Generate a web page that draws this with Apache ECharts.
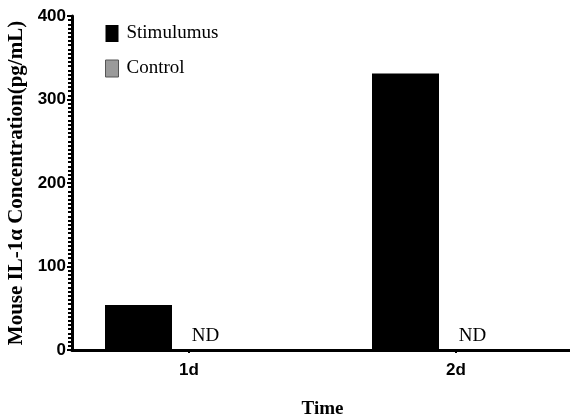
<!DOCTYPE html>
<html>
<head>
<meta charset="utf-8">
<script src="https://cdn.jsdelivr.net/npm/echarts@6/dist/echarts.min.js"></script>
<style>html,body{margin:0;padding:0;background:#fff}#c{width:570px;height:418px}</style>
</head>
<body>
<div id="c"></div>
<script>
const categories = ['1d', '2d'];
const stimulusValues = [54, 331];
const controlValues = [0, 0];
const controlLabels = ['ND', 'ND'];
const yTicks = [0, 100, 200, 300, 400];
const yAxisName = 'Mouse IL-1\u03b1 Concentration(pg/mL)';
const xAxisName = 'Time';
const seriesNames = ['Stimulumus', 'Control'];

const serif = 'Liberation Serif';
const sans = 'Liberation Sans';
const chart = echarts.init(document.getElementById('c'), null, {renderer: 'canvas'});
const gridTop = 16, gridBottom = 68;
chart.setOption({
  animation: false,
  backgroundColor: '#fff',
  legend: {
    data: [
      {name: seriesNames[0], itemStyle: {color: '#000', borderWidth: 0}},
      {name: seriesNames[1], itemStyle: {color: '#9a9a9a', borderColor: '#555', borderWidth: 1}}
    ],
    orient: 'vertical', icon: 'rect',
    left: 100, top: 19,
    itemWidth: 13, itemHeight: 17, itemGap: 16,
    textStyle: {fontFamily: serif, fontSize: 19, color: '#000', padding: [0, 0, 0, 3]}
  },
  grid: [
    {left: 55.5, width: 534, top: gridTop, bottom: gridBottom, outerBoundsMode: 'none', containLabel: false},
    {left: 72, right: 0, top: gridTop, bottom: gridBottom, outerBoundsMode: 'none', containLabel: false}
  ],
  xAxis: [
    {
      type: 'category', gridIndex: 0, data: categories,
      axisLine: {show: false},
      axisTick: {show: true, alignWithLabel: true, length: 3, lineStyle: {color: '#000', width: 2}},
      axisLabel: {fontFamily: sans, fontWeight: 'bold', fontSize: 17, color: '#000', margin: 12},
      name: xAxisName, nameLocation: 'middle', nameGap: 50,
      nameTextStyle: {fontFamily: serif, fontWeight: 'bold', fontSize: 19, color: '#000'}
    },
    {
      type: 'category', gridIndex: 1, data: categories,
      axisLine: {show: true, lineStyle: {color: '#000', width: 3}},
      axisTick: {show: false}, axisLabel: {show: false}
    }
  ],
  yAxis: [
    {type: 'value', gridIndex: 0, min: 0, max: 400, show: false},
    {
      type: 'value', gridIndex: 1, min: 0, max: 400, interval: 100,
      axisLine: {show: true, lineStyle: {color: '#000', width: 3}},
      axisTick: {show: true, length: 5, lineStyle: {color: '#000', width: 2}},
      minorTick: {show: true, splitNumber: 20, length: 4, lineStyle: {color: '#000', width: 2}},
      splitLine: {show: false},
      axisLabel: {fontFamily: sans, fontWeight: 'bold', fontSize: 17, color: '#000', margin: 6},
      name: yAxisName, nameLocation: 'middle', nameGap: 45,
      nameTextStyle: {fontFamily: serif, fontWeight: 'bold', fontSize: 21, color: '#000'}
    }
  ],
  series: [
    {
      name: seriesNames[0], type: 'bar', xAxisIndex: 0, yAxisIndex: 0,
      data: stimulusValues, barWidth: 67, barGap: '0%',
      itemStyle: {color: '#000'}
    },
    {
      name: seriesNames[1], type: 'bar', xAxisIndex: 0, yAxisIndex: 0,
      data: controlValues.map((v, i) => ({value: v, label: {formatter: controlLabels[i]}})),
      barWidth: 67, barGap: '0%',
      itemStyle: {color: '#9a9a9a', borderWidth: 0},
      label: {show: true, position: 'top', distance: 4, fontFamily: serif, fontSize: 19, color: '#000'}
    },
    {
      name: 'spacer', type: 'bar', xAxisIndex: 0, yAxisIndex: 0,
      data: [null, null], barWidth: 34, barGap: '0%', silent: true
    }
  ]
});
</script>
</body>
</html>
